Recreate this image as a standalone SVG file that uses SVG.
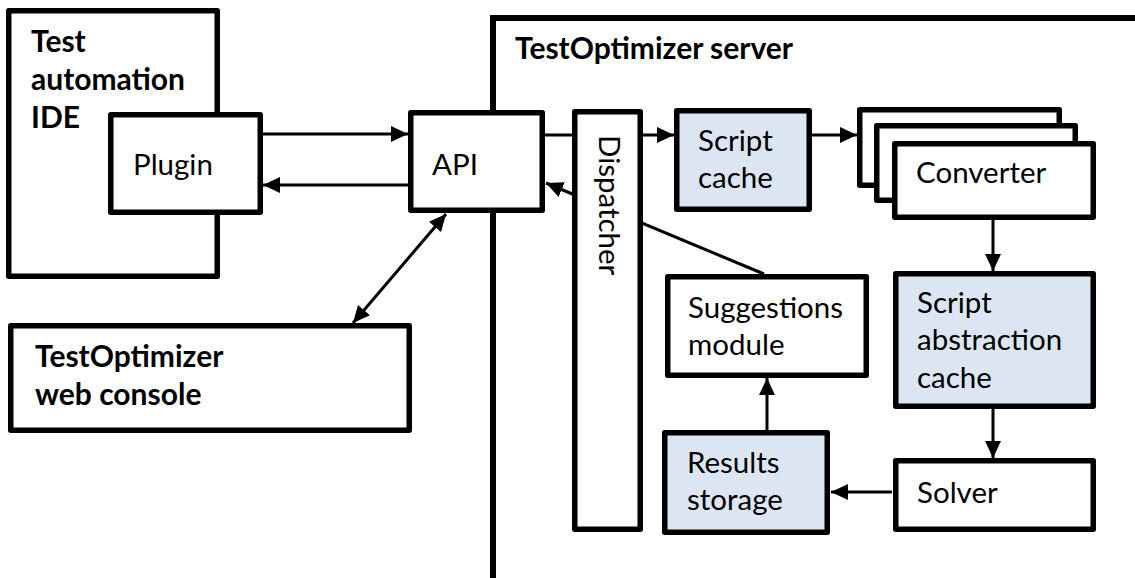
<svg xmlns="http://www.w3.org/2000/svg" width="1135" height="578" viewBox="0 0 1135 578">
  <style>
    .box { fill: #ffffff; stroke: #000000; stroke-width: 5.5; stroke-linejoin: round; }
    .store { fill: #dce6f2; stroke: #000000; stroke-width: 5.5; stroke-linejoin: round; }
    .frame { fill: none; stroke: #000000; stroke-width: 6; }
    .wire { fill: none; stroke: #000000; stroke-width: 3; }
    .lbl { font-family: Lato, "Liberation Sans", sans-serif; font-size: 29.5px; fill: #000000; }
    .ttl { font-family: Lato, "Liberation Sans", sans-serif; font-size: 30px; font-weight: bold; fill: #000000; }
  </style>
  <defs>
    <marker id="ah" markerUnits="userSpaceOnUse" markerWidth="18" markerHeight="18" refX="17" refY="8" orient="auto-start-reverse">
      <path d="M0,0 L17,8 L0,16 Z" fill="#000000"/>
    </marker>
  </defs>

  <rect width="1135" height="578" fill="#ffffff"/>

  <!-- server boundary (open to the right and bottom) -->
  <g id="server">
    <path class="frame" d="M493,578 V18 H1135"/>
    <text class="ttl" x="515" y="59">TestOptimizer server</text>
  </g>

  <!-- IDE with its plugin -->
  <g id="ide">
    <rect class="box" x="8.75" y="10.75" width="208.5" height="265.5"/>
    <text class="ttl" x="31" y="52">Test</text>
    <text class="ttl" x="31" y="90">automation</text>
    <text class="ttl" x="31" y="128">IDE</text>
  </g>
  <g id="plugin">
    <rect class="box" x="110.75" y="114.75" width="149.5" height="97.5"/>
    <text class="lbl" x="133" y="175">Plugin</text>
  </g>

  <g id="web-console">
    <rect class="box" x="10.75" y="325.75" width="398.5" height="104.5"/>
    <text class="ttl" x="35" y="367">TestOptimizer</text>
    <text class="ttl" x="35" y="405">web console</text>
  </g>

  <!-- connectors -->
  <g id="connectors">
    <line class="wire" x1="263" y1="134" x2="408" y2="134" marker-end="url(#ah)"/>
    <line class="wire" x1="408" y1="185" x2="263" y2="185" marker-end="url(#ah)"/>
    <line class="wire" x1="353" y1="323" x2="446" y2="214" marker-start="url(#ah)" marker-end="url(#ah)"/>
    <line class="wire" x1="545" y1="135" x2="674" y2="135" marker-end="url(#ah)"/>
    <line class="wire" x1="764" y1="274" x2="546" y2="183" marker-end="url(#ah)"/>
    <line class="wire" x1="812" y1="135" x2="857" y2="135" marker-end="url(#ah)"/>
    <line class="wire" x1="993" y1="220" x2="993" y2="271" marker-end="url(#ah)"/>
    <line class="wire" x1="993" y1="409" x2="993" y2="458" marker-end="url(#ah)"/>
    <line class="wire" x1="892" y1="492" x2="831" y2="492" marker-end="url(#ah)"/>
    <line class="wire" x1="767" y1="430" x2="767" y2="378" marker-end="url(#ah)"/>
  </g>

  <g id="api">
    <rect class="box" x="410.75" y="112.75" width="131.5" height="97.5"/>
    <text class="lbl" x="432" y="175">API</text>
  </g>

  <g id="dispatcher">
    <rect class="box" x="574.75" y="111.75" width="65.5" height="417.5"/>
    <text class="lbl" transform="translate(599,135) rotate(90)">Dispatcher</text>
  </g>

  <g id="script-cache">
    <rect class="store" x="676.75" y="110.75" width="132.5" height="98.5"/>
    <text class="lbl" x="698" y="151">Script</text>
    <text class="lbl" x="698" y="188">cache</text>
  </g>

  <!-- stacked converter instances -->
  <g id="converter">
    <rect class="box" x="859.75" y="109.75" width="199.5" height="75.5"/>
    <rect class="box" x="876.75" y="125.75" width="198.5" height="74.5"/>
    <rect class="box" x="894.75" y="143.75" width="198.5" height="73.5"/>
    <text class="lbl" x="916" y="183">Converter</text>
  </g>

  <g id="abstraction-cache">
    <rect class="store" x="895.75" y="273.75" width="197.5" height="132.5"/>
    <text class="lbl" x="917" y="313">Script</text>
    <text class="lbl" x="917" y="350">abstraction</text>
    <text class="lbl" x="917" y="388">cache</text>
  </g>

  <g id="suggestions">
    <rect class="box" x="667.75" y="276.75" width="198.5" height="98.5"/>
    <text class="lbl" x="688" y="318">Suggestions</text>
    <text class="lbl" x="688" y="355">module</text>
  </g>

  <g id="results">
    <rect class="store" x="664.75" y="432.75" width="162.5" height="99.5"/>
    <text class="lbl" x="687" y="473">Results</text>
    <text class="lbl" x="687" y="510">storage</text>
  </g>

  <g id="solver">
    <rect class="box" x="895.75" y="460.75" width="197.5" height="68.5"/>
    <text class="lbl" x="917" y="503">Solver</text>
  </g>
</svg>
